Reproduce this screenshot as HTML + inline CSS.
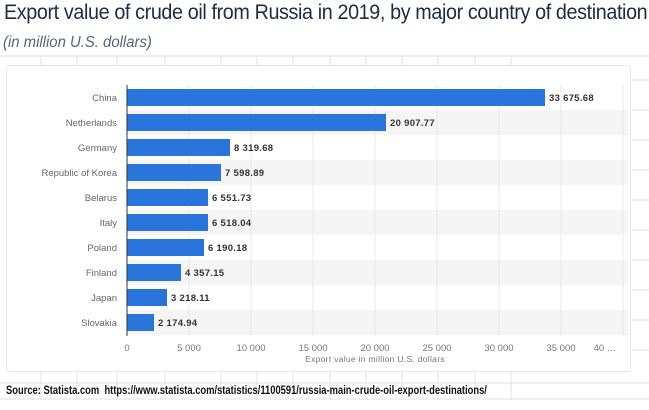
<!DOCTYPE html><html><head><style>
body{margin:0;width:649px;height:410px;background:#fff;position:relative;overflow:hidden;font-family:"Liberation Sans",sans-serif}
.t{position:absolute;left:4px;top:1px;font-size:21px;color:#1d2c45;letter-spacing:-0.4px;white-space:nowrap;transform:scaleX(0.94);transform-origin:left}
.s{position:absolute;left:3px;top:34px;font-size:15.5px;font-style:italic;color:#55657a;transform:scaleX(0.96);transform-origin:left}
.src{position:absolute;left:6px;top:385px;font-size:11.5px;font-weight:bold;color:#111;white-space:nowrap;transform:scaleX(0.815);transform-origin:left}
</style></head><body>
<div class="t">Export value of crude oil from Russia in 2019, by major country of destination</div>
<div class="s">(in million U.S. dollars)</div>
<svg width="649" height="410" style="position:absolute;left:0;top:0">
<g stroke="#e2e2e2" stroke-width="1">
<line x1="0" y1="56" x2="649" y2="56"/>
<line x1="41" y1="56" x2="41" y2="66"/><line x1="77" y1="56" x2="77" y2="66"/><line x1="117" y1="56" x2="117" y2="66"/><line x1="165" y1="56" x2="165" y2="66"/><line x1="221" y1="56" x2="221" y2="66"/><line x1="257" y1="56" x2="257" y2="66"/><line x1="293" y1="56" x2="293" y2="66"/><line x1="330" y1="56" x2="330" y2="66"/><line x1="366" y1="56" x2="366" y2="66"/><line x1="402" y1="56" x2="402" y2="66"/><line x1="438" y1="56" x2="438" y2="66"/><line x1="475" y1="56" x2="475" y2="66"/><line x1="511" y1="56" x2="511" y2="66"/>
<line x1="41" y1="372" x2="41" y2="400"/><line x1="77" y1="372" x2="77" y2="400"/><line x1="117" y1="372" x2="117" y2="400"/><line x1="165" y1="372" x2="165" y2="400"/><line x1="221" y1="372" x2="221" y2="400"/><line x1="257" y1="372" x2="257" y2="400"/><line x1="293" y1="372" x2="293" y2="400"/><line x1="330" y1="372" x2="330" y2="400"/><line x1="366" y1="372" x2="366" y2="400"/><line x1="402" y1="372" x2="402" y2="400"/><line x1="438" y1="372" x2="438" y2="400"/><line x1="475" y1="372" x2="475" y2="400"/><line x1="511" y1="372" x2="511" y2="400"/>
<line x1="0" y1="383" x2="649" y2="383"/><line x1="0" y1="399" x2="649" y2="399"/>
<line x1="632" y1="80" x2="649" y2="80"/><line x1="632" y1="110" x2="649" y2="110"/><line x1="632" y1="140" x2="649" y2="140"/><line x1="632" y1="170" x2="649" y2="170"/><line x1="632" y1="200" x2="649" y2="200"/><line x1="632" y1="230" x2="649" y2="230"/><line x1="632" y1="260" x2="649" y2="260"/><line x1="632" y1="290" x2="649" y2="290"/><line x1="632" y1="320" x2="649" y2="320"/><line x1="632" y1="350" x2="649" y2="350"/>
</g>
<rect x="6.5" y="65.5" width="624" height="306" fill="#fff" stroke="#e6e6e6" rx="3"/>
<g fill="#f5f5f5">
<rect x="127" y="110" width="501" height="25"/><rect x="127" y="160" width="501" height="25"/><rect x="127" y="210" width="501" height="25"/><rect x="127" y="260" width="501" height="25"/><rect x="127" y="310" width="501" height="25"/>
</g>
<g stroke="#e8e8e8">
<line x1="189" y1="85" x2="189" y2="336"/><line x1="251" y1="85" x2="251" y2="336"/><line x1="313" y1="85" x2="313" y2="336"/><line x1="375" y1="85" x2="375" y2="336"/><line x1="437" y1="85" x2="437" y2="336"/><line x1="499" y1="85" x2="499" y2="336"/><line x1="561" y1="85" x2="561" y2="336"/><line x1="623" y1="85" x2="623" y2="336"/>
</g>
<g fill="#2a75dc">
<rect x="127" y="89" width="418" height="17"/>
<rect x="127" y="114" width="259" height="17"/>
<rect x="127" y="139" width="103" height="17"/>
<rect x="127" y="164" width="94" height="17"/>
<rect x="127" y="189" width="81" height="17"/>
<rect x="127" y="214" width="81" height="17"/>
<rect x="127" y="239" width="77" height="17"/>
<rect x="127" y="264" width="54" height="17"/>
<rect x="127" y="289" width="40" height="17"/>
<rect x="127" y="314" width="27" height="17"/>
</g>
<line x1="127" y1="85" x2="127" y2="336" stroke="#333" stroke-width="1"/>
<g font-size="9.5" fill="#666" text-anchor="end">
<text x="117" y="101">China</text><text x="117" y="126">Netherlands</text><text x="117" y="151">Germany</text><text x="117" y="176">Republic of Korea</text><text x="117" y="201">Belarus</text><text x="117" y="226">Italy</text><text x="117" y="251">Poland</text><text x="117" y="276">Finland</text><text x="117" y="301">Japan</text><text x="117" y="326">Slovakia</text>
</g>
<g font-size="9.5" fill="#333" font-weight="bold" letter-spacing="0.3">
<text x="549" y="101">33 675.68</text><text x="390" y="126">20 907.77</text><text x="234" y="151">8 319.68</text><text x="225" y="176">7 598.89</text><text x="212" y="201">6 551.73</text><text x="212" y="226">6 518.04</text><text x="208" y="251">6 190.18</text><text x="185" y="276">4 357.15</text><text x="171" y="301">3 218.11</text><text x="158" y="326">2 174.94</text>
</g>
<g font-size="9.5" fill="#777" text-anchor="middle">
<text x="127" y="351">0</text><text x="189" y="351">5 000</text><text x="251" y="351">10 000</text><text x="313" y="351">15 000</text><text x="375" y="351">20 000</text><text x="437" y="351">25 000</text><text x="499" y="351">30 000</text><text x="561" y="351">35 000</text><text x="605" y="351">40 …</text>
<text x="375" y="362" font-size="8.5" letter-spacing="0.3">Export value in million U.S. dollars</text>
</g>
</svg>
<div class="src">Source: Statista.com &nbsp;https://www.statista.com/statistics/1100591/russia-main-crude-oil-export-destinations/</div>
</body></html>
